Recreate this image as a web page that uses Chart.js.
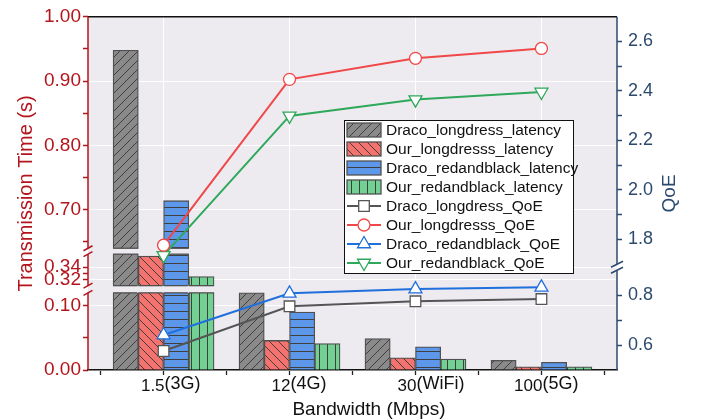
<!DOCTYPE html>
<html>
<head>
<meta charset="utf-8">
<script src="https://cdn.jsdelivr.net/npm/chart.js@4.4.1/dist/chart.umd.min.js"></script>
<style>
  html, body { margin: 0; padding: 0; background: #fff; }
  #wrap { width: 701px; height: 420px; }
</style>
</head>
<body>
<div id="wrap"><canvas id="chart" width="701" height="420"></canvas></div>
<script>
// categories
const bandwidth = ['1.5', '12', '30', '100'];
const network = ['(3G)', '(4G)', '(WiFi)', '(5G)'];

// transmission time (s) - left axis
const dracoLongdressLatency = [0.948, 0.12, 0.049, 0.015];
const ourLongdressLatency = [0.357, 0.046, 0.019, 0.005];
const dracoRedandblackLatency = [0.714, 0.090, 0.036, 0.012];
const ourRedandblackLatency = [0.325, 0.041, 0.017, 0.005];

// QoE - right axis
const dracoLongdressQoE = [0.576, 0.755, 0.775, 0.784];
const ourLongdressQoE = [1.776, 2.447, 2.532, 2.572];
const dracoRedandblackQoE = [0.640, 0.807, 0.824, 0.831];
const ourRedandblackQoE = [1.735, 2.299, 2.365, 2.396];

// ticks
const timeTicks = [0, 0.1, 0.32, 0.34, 0.7, 0.8, 0.9, 1.0];
const timeMinor = [0.05, 0.33, 0.65, 0.75, 0.85, 0.95];
const qoeTicks = [0.6, 0.8, 1.8, 2.0, 2.2, 2.4, 2.6];
const qoeMinor = [0.7, 1.9, 2.1, 2.3, 2.5];
const xTicks = [-0.5, 0, 0.5, 1, 1.5, 2, 2.5, 3, 3.5];

// broken axes: [value, fraction of plot height]
const timeKnots = [[0, 0], [0.12, 0.2184], [0.311, 0.2388], [0.36, 0.328], [0.64, 0.3447], [1, 1]];
const qoeKnots = [[0.5, 0], [0.911, 0.2907], [1.687, 0.2910], [2.7, 1]];
const timeGaps = [[0.12, 0.311], [0.36, 0.64]];
const qoeGaps = [[0.911, 1.687]];

const RED = '#b3151c';
const NAVY = '#2c4a6e';
const PLOT_BG = '#edebf0';
const BAR_EDGE = '#505050';
const FONT = "'Liberation Sans', Arial, sans-serif";

Chart.defaults.font.family = FONT;

const KNOTS = { yT: timeKnots, yQ: qoeKnots };

function toDecimal(knots, v) {
  for (let i = 1; i < knots.length; i++) {
    if (v <= knots[i][0] || i === knots.length - 1) {
      const [v0, d0] = knots[i - 1], [v1, d1] = knots[i];
      return d0 + (v - v0) / (v1 - v0) * (d1 - d0);
    }
  }
}
function fromDecimal(knots, d) {
  for (let i = 1; i < knots.length; i++) {
    if (d <= knots[i][1] || i === knots.length - 1) {
      const [v0, d0] = knots[i - 1], [v1, d1] = knots[i];
      return v0 + (d - d0) / (d1 - d0) * (v1 - v0);
    }
  }
}

class BrokenScale extends Chart.LinearScale {
  getPixelForValue(value) {
    if (value === null || value === undefined || isNaN(value)) return NaN;
    return this.getPixelForDecimal(toDecimal(KNOTS[this.id], value));
  }
  getValueForPixel(pixel) {
    return fromDecimal(KNOTS[this.id], this.getDecimalForPixel(pixel));
  }
}
BrokenScale.id = 'broken';
BrokenScale.defaults = {};
Chart.register(BrokenScale);

function makePattern(fill, size, draw) {
  const c = document.createElement('canvas');
  c.width = size; c.height = size;
  const g = c.getContext('2d');
  g.fillStyle = fill;
  g.fillRect(0, 0, size, size);
  g.strokeStyle = '#3f3f3f';
  g.lineWidth = 1;
  g.beginPath();
  draw(g, size);
  g.stroke();
  return g.createPattern(c, 'repeat');
}
const grayHatch = makePattern('#8a8a8a', 9, (g, s) => {
  g.moveTo(0, s); g.lineTo(s, 0);
  g.moveTo(-1, 1); g.lineTo(1, -1);
  g.moveTo(s - 1, s + 1); g.lineTo(s + 1, s - 1);
});
const redHatch = makePattern('#f4736e', 9, (g, s) => {
  g.moveTo(0, 0); g.lineTo(s, s);
  g.moveTo(s - 1, -1); g.lineTo(s + 1, 1);
  g.moveTo(-1, s - 1); g.lineTo(1, s + 1);
});
const blueHatch = makePattern('#5d97ea', 8, (g, s) => {
  g.moveTo(0, s - 0.5); g.lineTo(s, s - 0.5);
});
const greenHatch = makePattern('#72d092', 8, (g, s) => {
  g.moveTo(s - 0.5, 0); g.lineTo(s - 0.5, s);
});

const xy = arr => arr.map((v, i) => ({ x: i, y: v }));

function barSet(label, data, pattern) {
  return {
    type: 'bar', label, data: xy(data), yAxisID: 'yT', order: 1,
    backgroundColor: pattern, borderColor: BAR_EDGE, borderWidth: 1.3,
    barThickness: 25.25
  };
}
function lineSet(label, data, color, style, radius, rotation) {
  return {
    type: 'line', label, data: xy(data), yAxisID: 'yQ', order: 0,
    borderColor: color, borderWidth: 2, tension: 0,
    pointStyle: style, pointRadius: radius, pointRotation: rotation || 0,
    pointBackgroundColor: '#fff', pointBorderColor: color, pointBorderWidth: 1.3
  };
}

const datasets = [
  barSet('Draco_longdress_latency', dracoLongdressLatency, grayHatch),
  barSet('Our_longdresss_latency', ourLongdressLatency, redHatch),
  barSet('Draco_redandblack_latency', dracoRedandblackLatency, blueHatch),
  barSet('Our_redandblack_latency', ourRedandblackLatency, greenHatch),
  lineSet('Draco_longdress_QoE', dracoLongdressQoE, '#555555', 'rect', 7.5),
  lineSet('Our_longdresss_QoE', ourLongdressQoE, '#f04848', 'circle', 6),
  lineSet('Draco_redandblack_QoE', dracoRedandblackQoE, '#1f6fdd', 'triangle', 7.5),
  lineSet('Our_redandblack_QoE', ourRedandblackQoE, '#2ea85a', 'triangle', 7.5, 180)
];

function line(ctx, x1, y1, x2, y2) {
  ctx.beginPath(); ctx.moveTo(x1, y1); ctx.lineTo(x2, y2); ctx.stroke();
}

const brokenAxes = {
  id: 'brokenAxes',
  beforeDraw(chart) {
    const { ctx, chartArea: a } = chart;
    ctx.save();
    ctx.fillStyle = PLOT_BG;
    ctx.fillRect(a.left, a.top, a.right - a.left, a.bottom - a.top);
    ctx.restore();
  },
  afterDatasetDraw(chart, args) {
    if (args.index !== 0) return; // last bar set drawn, lines come after
    const { ctx } = chart;
    const yT = chart.scales.yT;
    ctx.save();
    for (const [lo, hi] of timeGaps) {
      const top = yT.getPixelForValue(hi), bot = yT.getPixelForValue(lo);
      for (let d = 0; d < 4; d++) {
        chart.getDatasetMeta(d).data.forEach(bar => {
          if (bar.y >= top - 0.5) return;
          const x0 = bar.x - bar.width / 2, w = bar.width;
          ctx.fillStyle = PLOT_BG;
          ctx.fillRect(x0 - 1, top, w + 2, bot - top);
          ctx.strokeStyle = BAR_EDGE;
          ctx.lineWidth = 1.3;
          line(ctx, x0, top, x0 + w, top);
          line(ctx, x0, bot, x0 + w, bot);
        });
      }
    }
    ctx.restore();
  },
  afterDraw(chart) {
    const { ctx, chartArea: a } = chart;
    const yT = chart.scales.yT, yQ = chart.scales.yQ, xs = chart.scales.x;
    ctx.save();

    // top frame
    ctx.strokeStyle = '#111';
    ctx.lineWidth = 1.5;
    line(ctx, a.left, a.top, a.right, a.top);

    // left axis with breaks
    ctx.strokeStyle = RED;
    let y = a.bottom;
    for (const [lo, hi] of timeGaps) {
      const bot = yT.getPixelForValue(lo), top = yT.getPixelForValue(hi);
      line(ctx, a.left, y, a.left, bot);
      line(ctx, a.left - 4.5, bot + 2.5, a.left + 4.5, bot - 2.5);
      line(ctx, a.left - 4.5, top + 2.5, a.left + 4.5, top - 2.5);
      y = top;
    }
    line(ctx, a.left, y, a.left, a.top);

    // right axis with break
    ctx.strokeStyle = NAVY;
    y = a.bottom;
    for (const [lo, hi] of qoeGaps) {
      const c = (yQ.getPixelForValue(lo) + yQ.getPixelForValue(hi)) / 2;
      line(ctx, a.right, y, a.right, c + 3);
      line(ctx, a.right - 6, c + 6, a.right + 6, c);
      line(ctx, a.right - 6, c, a.right + 6, c - 6);
      y = c - 3;
    }
    line(ctx, a.right, y, a.right, a.top);

    // category labels
    ctx.fillStyle = '#111';
    ctx.textBaseline = 'alphabetic';
    bandwidth.forEach((b, i) => {
      const px = xs.getPixelForValue(i);
      ctx.font = '17px ' + FONT;
      ctx.textAlign = 'right';
      ctx.fillText(b, px + 1, 391);
      ctx.font = '18px ' + FONT;
      ctx.textAlign = 'left';
      ctx.fillText(network[i], px + 1, 389);
    });

    // axis titles
    ctx.font = '19px ' + FONT;
    ctx.textAlign = 'center';
    ctx.fillText('Bandwidth (Mbps)', 369, 415);
    ctx.textBaseline = 'middle';
    ctx.save();
    ctx.translate(26, (a.top + a.bottom) / 2);
    ctx.rotate(-Math.PI / 2);
    ctx.font = '20px ' + FONT;
    ctx.fillStyle = RED;
    ctx.fillText('Transmission Time (s)', 0, 0);
    ctx.restore();
    ctx.save();
    ctx.translate(670, (a.top + a.bottom) / 2);
    ctx.rotate(-Math.PI / 2);
    ctx.fillStyle = NAVY;
    ctx.fillText('QoE', 0, 0);
    ctx.restore();

    // legend
    const bx = 344, by = 120, bw = 229, bh = 153, row = 19;
    ctx.fillStyle = '#fff';
    ctx.fillRect(bx, by, bw, bh);
    ctx.strokeStyle = '#111';
    ctx.lineWidth = 1;
    ctx.strokeRect(bx + 0.5, by + 0.5, bw, bh);
    ctx.font = '15.5px ' + FONT;
    ctx.textAlign = 'left';
    ctx.textBaseline = 'middle';
    chart.data.datasets.forEach((ds, i) => {
      const cy = by + 10 + i * row;
      if (ds.type === 'bar') {
        ctx.fillStyle = ds.backgroundColor;
        ctx.fillRect(bx + 3, cy - 7, 34, 14);
        ctx.strokeStyle = BAR_EDGE;
        ctx.lineWidth = 1.3;
        ctx.strokeRect(bx + 3, cy - 7, 34, 14);
      } else {
        ctx.strokeStyle = ds.borderColor;
        ctx.lineWidth = 2;
        line(ctx, bx + 3, cy, bx + 37, cy);
        ctx.fillStyle = '#fff';
        ctx.lineWidth = ds.pointBorderWidth;
        Chart.helpers.drawPoint(ctx, {
          pointStyle: ds.pointStyle, radius: ds.pointRadius,
          rotation: ds.pointRotation, borderWidth: ds.pointBorderWidth
        }, bx + 20, cy);
      }
      ctx.fillStyle = '#111';
      ctx.fillText(ds.label, bx + 42, cy + 1);
    });
    ctx.restore();
  }
};

new Chart(document.getElementById('chart'), {
  data: { datasets },
  plugins: [brokenAxes],
  options: {
    responsive: false,
    devicePixelRatio: 1,
    animation: false,
    events: [],
    layout: { padding: { top: 14, left: 0, right: 0, bottom: 0 } },
    plugins: { legend: { display: false }, tooltip: { enabled: false } },
    scales: {
      x: {
        type: 'linear', min: -0.6, max: 3.6, offset: false,
        afterBuildTicks: s => { s.ticks = xTicks.map(v => ({ value: v })); },
        afterFit: s => { s.height = 50; },
        ticks: { display: false },
        grid: {
          offset: false,
          color: c => (c.tick && Number.isInteger(c.tick.value)) ? '#ffffff' : 'rgba(0,0,0,0)',
          lineWidth: 1, tickColor: '#222', tickLength: 5, tickWidth: 1.3
        },
        border: { color: '#111', width: 1.5 }
      },
      yT: {
        type: 'broken', position: 'left', min: 0, max: 1, bounds: 'data',
        afterBuildTicks: s => {
          s.ticks = timeTicks.concat(timeMinor).sort((p, q) => p - q).map(v => ({ value: v }));
        },
        afterFit: s => { s.width = 88; },
        ticks: {
          autoSkip: false, padding: 2, color: RED, font: { size: 19 },
          callback: v => timeTicks.includes(v) ? v.toFixed(2) : ''
        },
        grid: {
          color: c => (c.tick && timeTicks.includes(c.tick.value)) ? '#ffffff' : 'rgba(0,0,0,0)',
          lineWidth: 1, tickColor: RED, tickLength: 5, tickWidth: 1.5
        },
        border: { display: false }
      },
      yQ: {
        type: 'broken', position: 'right', min: 0.5, max: 2.7, bounds: 'data',
        afterBuildTicks: s => {
          s.ticks = qoeTicks.concat(qoeMinor).sort((p, q) => p - q).map(v => ({ value: v }));
        },
        afterFit: s => { s.width = 84; },
        ticks: {
          autoSkip: false, padding: 6, color: NAVY, font: { size: 18 },
          callback: v => qoeTicks.includes(v) ? v.toFixed(1) : ''
        },
        grid: { drawOnChartArea: false, tickColor: NAVY, tickLength: 5, tickWidth: 1.5 },
        border: { display: false }
      }
    }
  }
});
</script>
</body>
</html>
